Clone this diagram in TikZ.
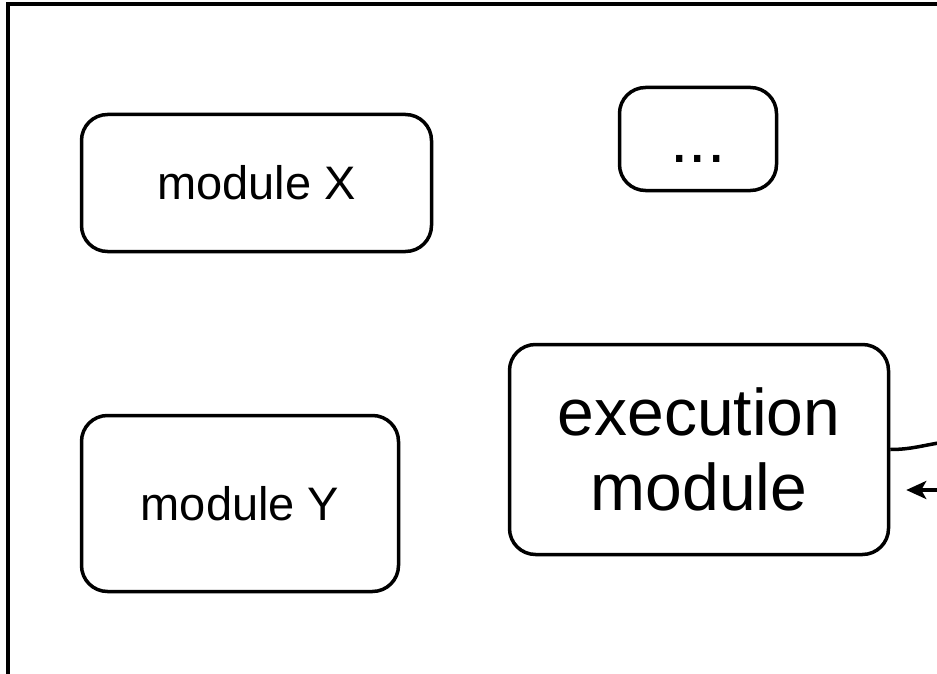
\documentclass[tikz,border=0pt]{standalone}
\usepackage{fontspec}
\setmainfont{Liberation Sans}
\usetikzlibrary{arrows.meta}

\begin{document}
\begin{tikzpicture}[
    x=1pt, y=-1pt,
    % Define Styles
    modbox/.style={
        rectangle,
        draw,
        rounded corners=26pt,
        line width=3.5pt,
        inner sep=0pt,
        fill=white,
        font=\fontsize{47}{56}\selectfont
    },
    bigbox/.style={
        modbox,
        align=center,
        font=\fontsize{66}{75}\selectfont
    },
    frameline/.style={
        draw,
        line width=3.5pt
    },
    link/.style={
        draw,
        line width=3.5pt
    },
    inarrow/.style={
        draw,
        line width=3.5pt,
        -{Stealth[length=20pt,width=18pt,inset=5pt]}
    }
    ]

    % Canvas
    \useasboundingbox (0,0) rectangle (937,674);
    \clip (0,0) rectangle (937,674);

    % Outer Frame
    \coordinate (fTR) at (945,4);
    \coordinate (fTL) at (8,4);
    \coordinate (fBL) at (8,685);
    \draw[frameline] (fTR) -- (fTL) -- (fBL);

    % Modules
    \node[modbox, minimum width=350pt, minimum height=137pt]
        (modX) at (256.5,183) {module X};
    \node[modbox, minimum width=157pt, minimum height=103pt,
        font=\fontsize{66}{75}\selectfont, text height=48pt, text depth=0pt]
        (dots) at (698,139) {...};
    \node[modbox, minimum width=317pt, minimum height=176pt]
        (modY) at (240,503.5) {module Y};
    \node[bigbox, minimum width=379pt, minimum height=210pt]
        (exec) at (699,449.5) {execution\\module};

    % Connectors
    \coordinate (outR) at (945,442);
    \coordinate (inR) at (945,490);
    \draw[link] (exec.east) to[out=0, in=188] (outR);
    \draw[inarrow, shorten >=16pt] (inR) -- (exec.east |- inR);

\end{tikzpicture}
\end{document}
